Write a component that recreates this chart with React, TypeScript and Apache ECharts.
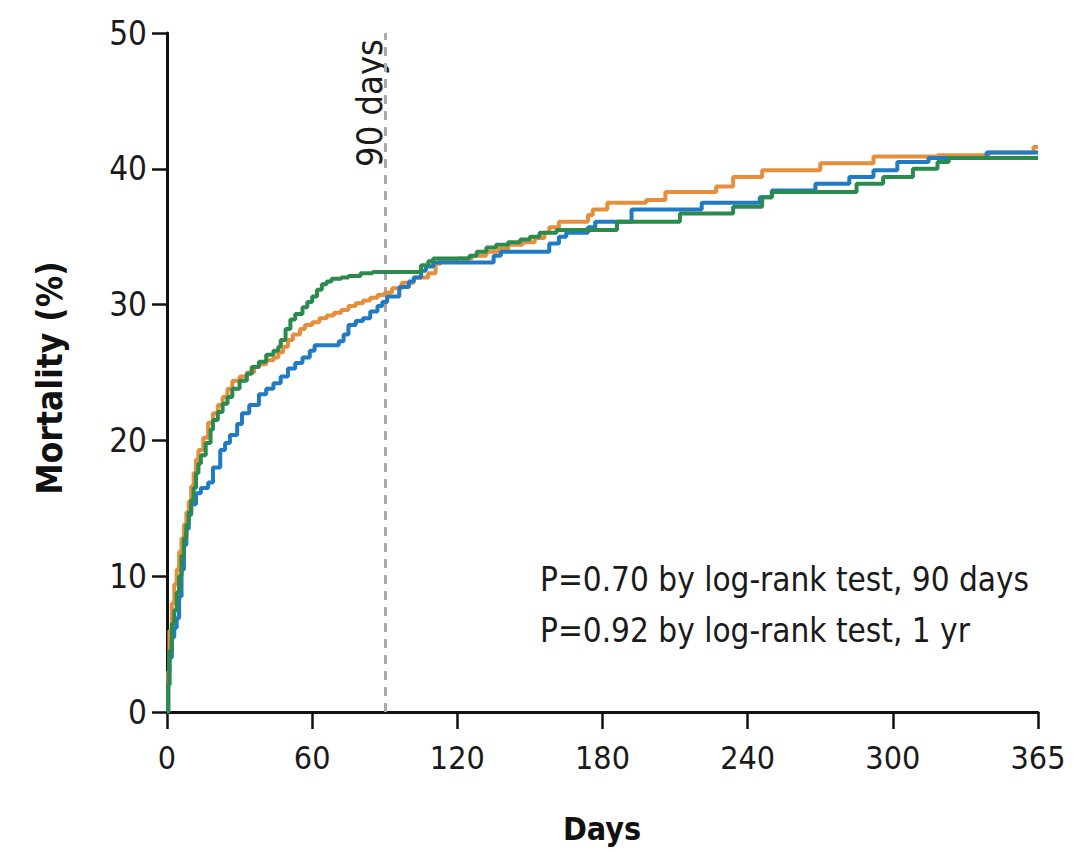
import React, { useEffect, useRef } from "react";
import * as echarts from "echarts";

// Kaplan–Meier style mortality curves: [day, mortality %]
const orangeData: number[][] = [
  [0, 0], [0.5, 3], [1, 6], [2, 8], [3, 9.4], [4, 10.5], [5, 11.8], [6, 12.8], [7, 13.8], [8, 14.7],
  [9, 15.5], [10, 16.6], [11, 17.6], [12, 18.6], [13, 19.3], [15, 20.2], [17, 21.3], [19, 22], [21, 22.6],
  [23, 23.2], [25, 23.8], [27, 24.4], [30, 24.7], [33, 25], [36, 25.4], [38, 25.6], [41, 25.9], [44, 26.1],
  [46, 26.5], [48, 26.9], [50, 27.4], [52, 27.8], [55, 28.2], [57, 28.5], [60, 28.7], [63, 29], [66, 29.2],
  [69, 29.4], [72, 29.6], [75, 29.9], [78, 30.1], [81, 30.3], [84, 30.5], [87, 30.7], [90, 30.9], [93, 31.2],
  [97, 31.6], [102, 32.0], [108, 32.3], [111, 33.0], [113, 33.3], [120, 33.4], [126, 33.6], [132, 33.9],
  [137, 34.1], [141, 34.4], [147, 34.6], [152, 34.9], [156, 35.3], [158, 35.7], [162, 36.1], [174, 36.6],
  [176, 37.0], [182, 37.5], [198, 37.7], [206, 38.3], [227, 38.7], [234, 39.4], [246, 39.9], [270, 40.4],
  [292, 40.9], [320, 41.0], [343, 41.2], [363, 41.6], [365, 41.6],
];

const blueData: number[][] = [
  [0, 0], [0.5, 2], [1, 4], [2, 5.5], [3, 6.2], [4, 6.9], [5, 8.5], [6, 10.5], [7, 12.3], [8, 13.5],
  [9, 14.5], [10, 15.3], [12, 16.1], [14, 16.5], [17, 16.9], [19, 18.0], [22, 19.3], [24, 19.8], [26, 20.4],
  [29, 21.2], [31, 22.0], [34, 22.6], [38, 23.4], [41, 23.8], [44, 24.2], [47, 24.7], [50, 25.3], [53, 25.7],
  [56, 26.1], [59, 26.6], [61, 27.0], [71, 27.3], [73, 27.8], [75, 28.5], [78, 28.8], [81, 29.0], [84, 29.5],
  [87, 29.9], [89, 30.2], [91, 30.6], [96, 31.3], [100, 31.7], [102, 32.0], [105, 32.5], [107, 32.8],
  [110, 33.1], [135, 33.6], [138, 33.9], [158, 34.5], [162, 35.0], [165, 35.3], [174, 35.7], [177, 36.1],
  [192, 37.0], [221, 37.5], [245, 37.9], [250, 38.4], [268, 38.9], [282, 39.4], [292, 39.9], [302, 40.5],
  [316, 40.8], [342, 41.2], [365, 41.2],
];

const greenData: number[][] = [
  [0, 0], [0.5, 2], [1, 4.5], [2, 6.5], [3, 7.5], [4, 8.8], [5, 10], [6, 11.5], [7, 12.8], [8, 13.8],
  [9, 14.7], [10, 15.6], [11, 16.5], [12, 17.6], [13, 18.3], [14, 18.9], [16, 19.8], [18, 20.8], [19, 21.5],
  [21, 22.1], [23, 22.7], [25, 23.2], [27, 23.8], [30, 24.4], [33, 24.9], [35, 25.4], [38, 25.8], [41, 26.3],
  [44, 26.6], [46, 26.9], [47, 27.4], [49, 28.2], [51, 28.9], [53, 29.3], [56, 29.8], [58, 30.2], [60, 30.6],
  [62, 31.1], [64, 31.5], [66, 31.7], [68, 31.9], [72, 32.0], [75, 32.1], [80, 32.3], [85, 32.4],
  [105, 32.9], [108, 33.2], [110, 33.4], [125, 33.6], [128, 33.9], [132, 34.2], [136, 34.4], [141, 34.6],
  [146, 34.8], [150, 35.0], [154, 35.3], [161, 35.5], [186, 36.1], [212, 36.7], [234, 37.2], [246, 37.9],
  [250, 38.3], [285, 38.9], [296, 39.4], [309, 40.0], [320, 40.5], [325, 40.8], [365, 40.8],
];

const xTickLabels = ["0", "60", "120", "180", "240", "300", "365"];
const xTickDays = [0, 60, 120, 180, 240, 300, 360];
const markerDay = 90;
const annotations = [
  "P=0.70 by log-rank test, 90 days",
  "P=0.92 by log-rank test, 1 yr",
];

// The printed axis draws the 300–365 span with the same width as a 60-day span.
const mapDay = (d: number) => (d <= 300 ? d : 300 + ((d - 300) * 60) / 65);
const toSeries = (arr: number[][]) => arr.map(([d, v]) => [mapDay(d), v]);

const FONT = "'DejaVu Sans Condensed', 'DejaVu Sans', sans-serif";

export default function App() {
  const ref = useRef<HTMLDivElement>(null);
  useEffect(() => {
    if (!ref.current) return;
    const chart = echarts.init(ref.current, null, { renderer: "svg" });
    const axisColor = "#111";
    chart.setOption({
      animation: false,
      backgroundColor: "#fff",
      grid: { left: 167, right: 47, top: 33, bottom: 140, containLabel: false },
      xAxis: {
        type: "value",
        min: 0,
        max: 360,
        interval: 60,
        axisLine: { show: true, onZero: false, lineStyle: { color: axisColor, width: 3 } },
        axisTick: { show: true, length: 17, lineStyle: { color: axisColor, width: 2.5 } },
        splitLine: { show: false },
        axisLabel: {
          margin: 30,
          fontSize: 32,
          fontFamily: FONT,
          color: "#1a1a1a",
          formatter: (v: number) => {
            const i = xTickDays.indexOf(v);
            return i >= 0 ? xTickLabels[i] : "";
          },
        },
      },
      yAxis: {
        type: "value",
        min: 0,
        max: 50,
        interval: 10,
        axisLine: { show: true, lineStyle: { color: axisColor, width: 3 } },
        axisTick: { show: true, length: 15, lineStyle: { color: axisColor, width: 2.5 } },
        splitLine: { show: false },
        axisLabel: { margin: 20, fontSize: 33, fontFamily: FONT, color: "#1a1a1a" },
      },
      series: [
        {
          type: "line",
          name: "Orange",
          step: "end",
          data: toSeries(orangeData),
          showSymbol: false,
          lineStyle: { color: "#E58F3C", width: 4 },
          itemStyle: { color: "#E58F3C" },
          z: 2,
          markLine: {
            silent: true,
            symbol: ["none", "none"],
            label: { show: false },
            lineStyle: { color: "#aaaaaa", type: [9, 7], width: 3 },
            data: [{ xAxis: mapDay(markerDay) }],
            z: 1,
          },
        },
        {
          type: "line",
          name: "Blue",
          step: "end",
          data: toSeries(blueData),
          showSymbol: false,
          lineStyle: { color: "#1F7CC4", width: 4 },
          itemStyle: { color: "#1F7CC4" },
          z: 3,
        },
        {
          type: "line",
          name: "Green",
          step: "end",
          data: toSeries(greenData),
          showSymbol: false,
          lineStyle: { color: "#2B8A4E", width: 4 },
          itemStyle: { color: "#2B8A4E" },
          z: 4,
        },
      ],
      graphic: [
        {
          type: "text",
          x: 50,
          y: 378,
          rotation: Math.PI / 2,
          style: {
            text: "Mortality (%)",
            fontSize: 35,
            fontWeight: "bold",
            fontFamily: FONT,
            fill: "#111",
            textAlign: "center",
            textVerticalAlign: "middle",
          },
        },
        {
          type: "text",
          x: 602,
          y: 829,
          style: {
            text: "Days",
            fontSize: 32,
            fontWeight: "bold",
            fontFamily: FONT,
            fill: "#111",
            textAlign: "center",
            textVerticalAlign: "middle",
          },
        },
        {
          type: "text",
          x: 369,
          y: 103,
          rotation: Math.PI / 2,
          style: {
            text: "90 days",
            fontSize: 36,
            fontFamily: FONT,
            fill: "#1a1a1a",
            textAlign: "center",
            textVerticalAlign: "middle",
          },
        },
        {
          type: "text",
          x: 540,
          y: 579,
          style: {
            text: annotations[0],
            fontSize: 33,
            fontFamily: FONT,
            fill: "#1a1a1a",
            textAlign: "left",
            textVerticalAlign: "middle",
          },
        },
        {
          type: "text",
          x: 540,
          y: 630,
          style: {
            text: annotations[1],
            fontSize: 33,
            fontFamily: FONT,
            fill: "#1a1a1a",
            textAlign: "left",
            textVerticalAlign: "middle",
          },
        },
      ],
    });
    return () => chart.dispose();
  }, []);
  return (
    <div
      ref={ref}
      style={{ position: "absolute", left: 0, top: 0, width: 1085, height: 852, background: "#fff" }}
    />
  );
}
